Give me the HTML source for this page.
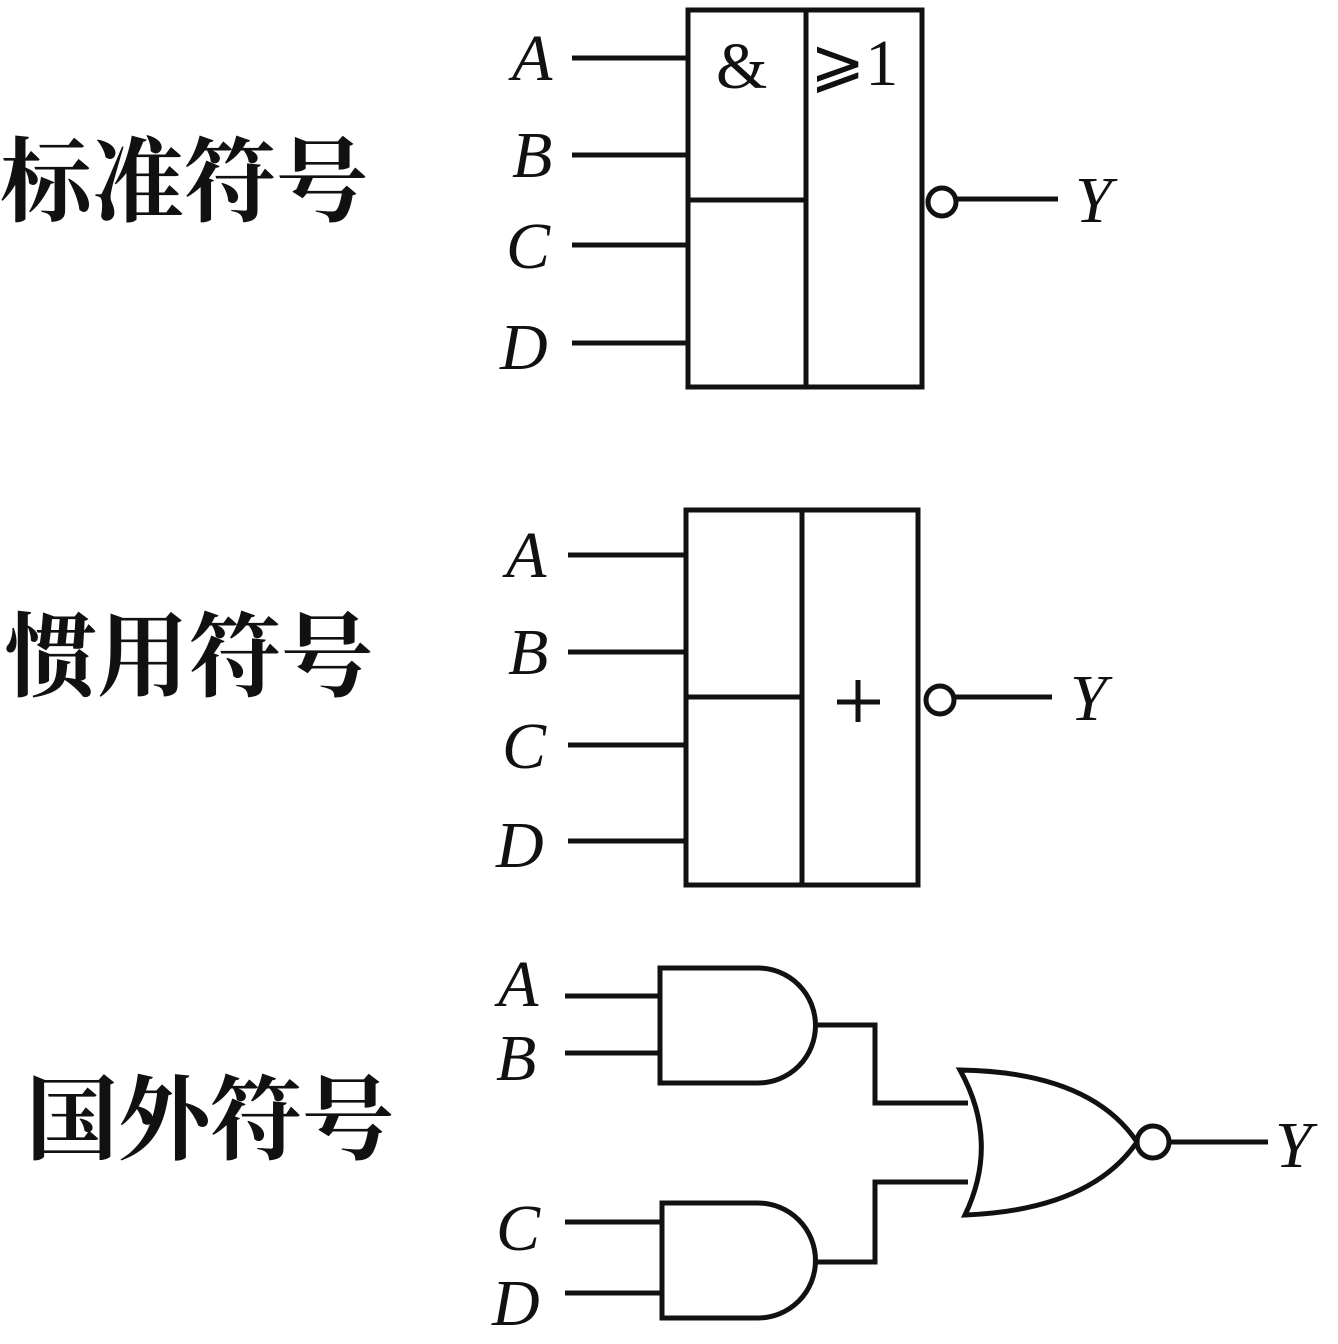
<!DOCTYPE html>
<html><head><meta charset="utf-8"><style>
html,body{margin:0;padding:0;background:#fff;}
svg{display:block}
.l{font-family:"Liberation Serif",serif;font-style:italic;font-size:66px;fill:#111}
.c{font-family:"Liberation Serif","Noto Serif CJK SC","Noto Sans CJK SC",serif;font-size:92px;font-weight:bold;fill:#111}
</style></head><body>
<svg width="1338" height="1344" viewBox="0 0 1338 1344" xmlns="http://www.w3.org/2000/svg">
<g stroke="#111" stroke-width="5" fill="none">
<rect x="688" y="10" width="234" height="377"/>
<line x1="806" y1="10" x2="806" y2="387"/>
<line x1="688" y1="200" x2="806" y2="200"/>
<line x1="572" y1="58" x2="688" y2="58"/>
<line x1="572" y1="155" x2="688" y2="155"/>
<line x1="572" y1="245" x2="688" y2="245"/>
<line x1="572" y1="343" x2="688" y2="343"/>
<circle cx="942" cy="202" r="14"/>
<line x1="956" y1="199" x2="1058" y2="199"/>
<rect x="686" y="510" width="232" height="375"/>
<line x1="802" y1="510" x2="802" y2="885"/>
<line x1="686" y1="697" x2="802" y2="697"/>
<line x1="568" y1="555" x2="686" y2="555"/>
<line x1="568" y1="652" x2="686" y2="652"/>
<line x1="568" y1="745" x2="686" y2="745"/>
<line x1="568" y1="841" x2="686" y2="841"/>
<circle cx="940" cy="700" r="14"/>
<line x1="954" y1="697" x2="1052" y2="697"/>
<line x1="858" y1="680" x2="858" y2="722"/>
<line x1="837" y1="702" x2="880" y2="702"/>
<path d="M660 968 H758 A57 57 0 0 1 758 1083 H660 Z"/>
<path d="M662 1203 H758 A57 57 0 0 1 758 1318 H662 Z"/>
<line x1="565" y1="996" x2="660" y2="996"/>
<line x1="565" y1="1053" x2="660" y2="1053"/>
<line x1="565" y1="1222" x2="662" y2="1222"/>
<line x1="565" y1="1293" x2="662" y2="1293"/>
<polyline points="815,1025 875,1025 875,1103 968,1103"/>
<polyline points="815,1262 875,1262 875,1182 968,1182"/>
<path d="M960 1070 Q1000 1142 965 1215 Q1090 1210 1137 1142 Q1090 1072 960 1070 Z"/>
<circle cx="1153" cy="1142" r="16"/>
<line x1="1169" y1="1142" x2="1268" y2="1142"/>
</g>
<text class="l" x="512" y="80">A</text>
<text class="l" x="512" y="177">B</text>
<text class="l" x="506" y="268">C</text>
<text class="l" x="500" y="369">D</text>
<text class="l" x="1075" y="222">Y</text>
<text class="l" x="506" y="577">A</text>
<text class="l" x="508" y="674">B</text>
<text class="l" x="502" y="768">C</text>
<text class="l" x="496" y="867">D</text>
<text class="l" x="1070" y="720">Y</text>
<text class="l" x="498" y="1006">A</text>
<text class="l" x="496" y="1080">B</text>
<text class="l" x="496" y="1250">C</text>
<text class="l" x="492" y="1325">D</text>
<text class="l" x="1275" y="1167">Y</text>
<text x="716" y="88" font-family="Liberation Serif,serif" font-size="66" fill="#111">&amp;</text>
<text x="810" y="85" font-family="Liberation Serif,DejaVu Serif,serif" font-size="66" fill="#111">⩾1</text>
<text class="c" x="0" y="214">标准符号</text>
<text class="c" x="5" y="689">惯用符号</text>
<text class="c" x="26" y="1152">国外符号</text>
</svg>
</body></html>
